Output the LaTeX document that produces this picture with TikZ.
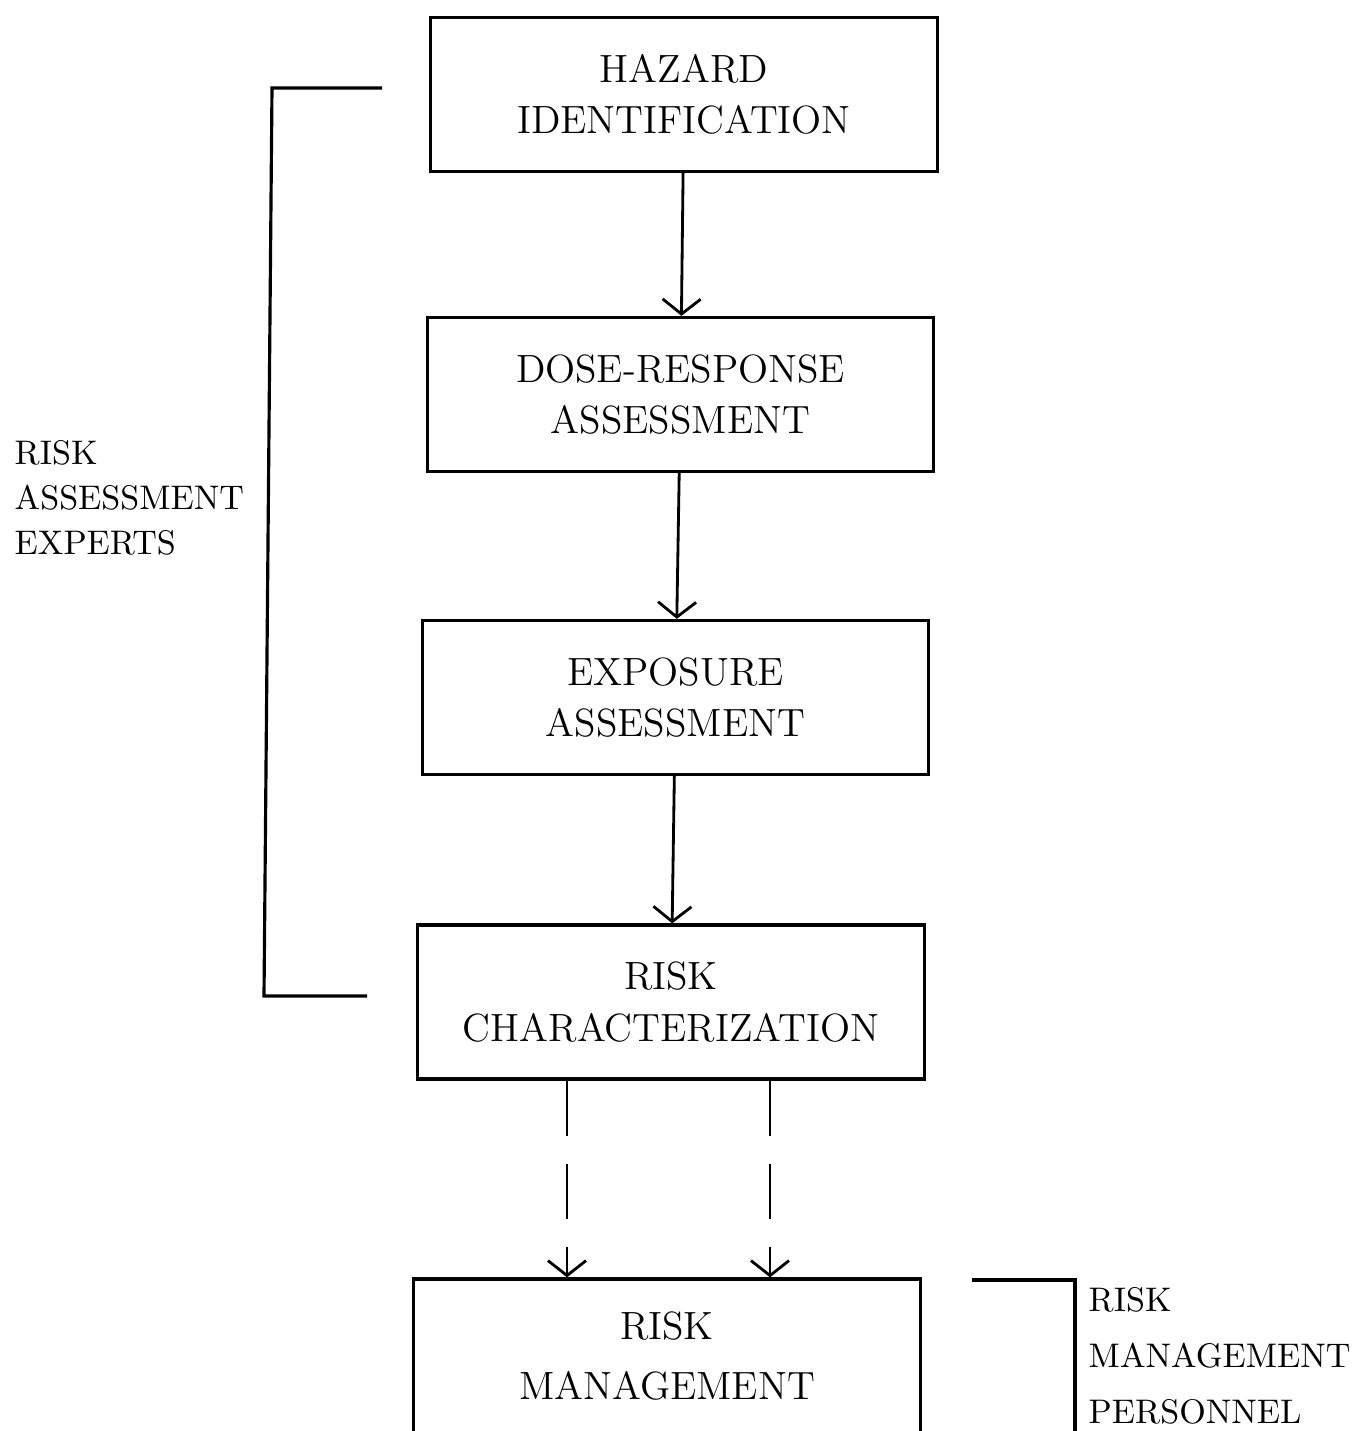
\documentclass[tikz,border=0pt]{standalone}
\usepackage{tikz}
\usetikzlibrary{arrows.meta,positioning,calc}
\tikzset{
  procbox/.style={ draw, line width=0.9pt, minimum width=5.06cm, minimum height=1.54cm, align=center, font=\fontsize{11.2}{14.6}\selectfont }
}
\tikzset{
  grouplabel/.style={ anchor=west, align=left, inner sep=0pt, font=\fontsize{9.7}{12.8}\selectfont }
}
\tikzset{
  flowarrow/.style={ line width=0.8pt, -{Straight Barb[length=0.15cm, width=0.38cm]} }
}
\tikzset{
  dasharrow/.style={ flowarrow, dash pattern=on 0.55cm off 0.28cm }
}
\begin{document}
\begin{tikzpicture}[x=0.01cm, y=-0.01cm]
      \useasboundingbox (0,0) rectangle (1369,1431);
      \node[procbox] (haz) at (684, 94.5) {HAZARD\\IDENTIFICATION};
      \node[procbox] (dose) at (680.5, 394.5) {DOSE-RESPONSE\\ASSESSMENT};
      \node[procbox] (expo) at (675.5, 697.5) {EXPOSURE\\ASSESSMENT};
      \node[procbox] (char) at (671, 1002) {RISK\\CHARACTERIZATION};
      \node[procbox, font=\fontsize{11.2}{17}\selectfont] (mgmt) at (667, 1356) {RISK\\MANAGEMENT};
      \node[grouplabel] (experts) at (14, 498) {RISK\\ASSESSMENT\\EXPERTS};
      \node[grouplabel, font=\fontsize{9.7}{15.9}\selectfont] (personnel) at (1088, 1356) {RISK\\MANAGEMENT\\PERSONNEL};
      \coordinate (dl) at (567, 0);
      \coordinate (dr) at (770, 0);
      \draw[flowarrow] (haz) -- (dose);
      \draw[flowarrow] (dose) -- (expo);
      \draw[flowarrow] (expo) -- (char);
      \draw[dasharrow] (char.south -| dl) -- (mgmt.north -| dl);
      \draw[dasharrow] (char.south -| dr) -- (mgmt.north -| dr);
      % brackets
      \draw[line width=0.9pt] (382, 88) -- (272, 88) -- (264, 996) -- (367, 996);
      \draw[line width=0.9pt] (972, 1280) -- (1075, 1280) -- (1075, 1450);
\end{tikzpicture}
\end{document}
